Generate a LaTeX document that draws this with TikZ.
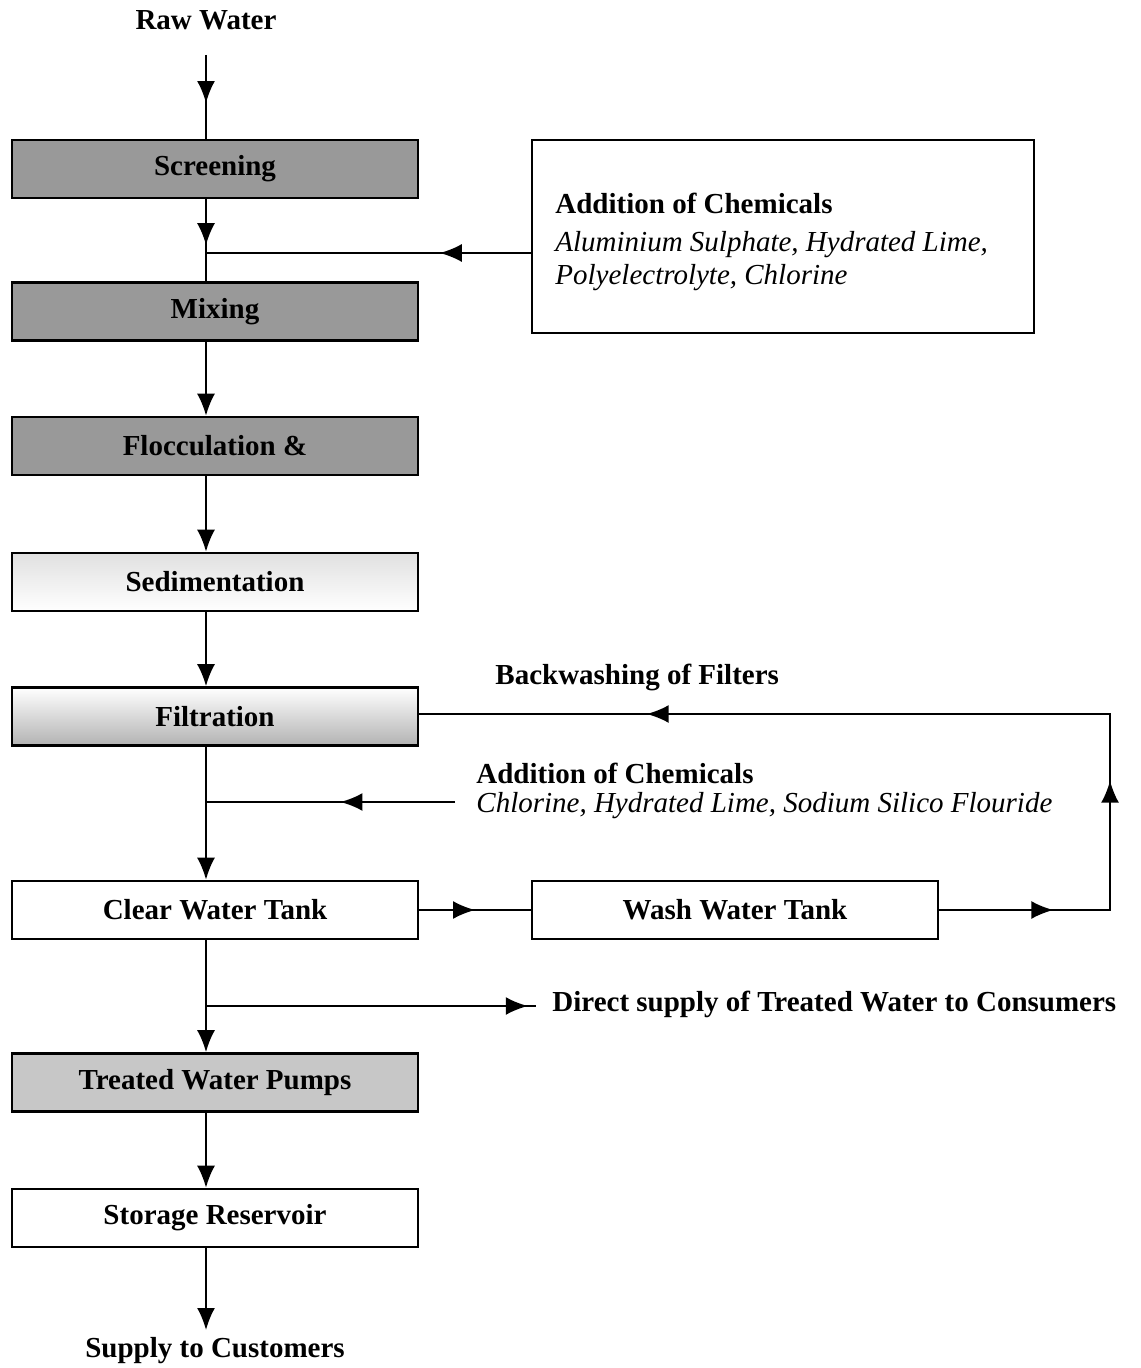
\documentclass[tikz,border=0pt]{standalone}
\usepackage{fontspec}
\setmainfont{Liberation Serif}
\usetikzlibrary{arrows.meta}
\usetikzlibrary{decorations.markings}
\usetikzlibrary{positioning}
\tikzset{
  stage/.style={draw,line width=1.3pt,minimum width=203pt,minimum height=29pt,
    inner sep=0pt,font=\fontsize{14.5}{17}\selectfont\bfseries}, % Prozessstufe
  darkstage/.style={stage,fill=black!40},
  midstage/.style={stage,fill=black!22},
  fadestage/.style={stage,top color=white,bottom color=black!30},
  palestage/.style={stage,top color=black!12,bottom color=white},
  plain/.style={font=\fontsize{14.5}{17}\selectfont\bfseries},
  chemlist/.style={font=\fontsize{14.5}{16.5}\selectfont\itshape,align=left},
  flow/.style={line width=1pt,->}, % Pfeil am Ende
  midflow/.style={line width=1pt,postaction={decorate},
    decoration={markings,mark=at position #1 with {\arrow{>}}}} % Pfeil in der Mitte
}
\begin{document}
\begin{tikzpicture}[x=0.5pt,y=-0.5pt,
>={Latex[length=11pt,width=9pt]} % Pfeilspitzen
]
\useasboundingbox (0,0) rectangle (1140,1368);

%Stufen
\node[plain] (raw) at (206,20) {Raw Water};
\node[darkstage] (screen) at (215,169) {Screening};
\node[darkstage] (mix) at (215,311.5) {Mixing};
\node[darkstage] (floc) at (215,446) {Flocculation \&};
\node[palestage] (sedi) at (215,582) {Sedimentation};
\node[fadestage] (filt) at (215,716.5) {Filtration};
\node[stage] (clear) at (215,910) {Clear Water Tank};
\node[stage] (wash) at (735,910) {Wash Water Tank};
\node[midstage] (pumps) at (215,1082.5) {Treated Water Pumps};
\node[stage] (store) at (215,1218) {Storage Reservoir};
\node[plain,anchor=north] (supply) at (215,1330) {Supply to Customers};

%Chemikalien
\node[draw,line width=1.3pt,minimum width=251pt,minimum height=96.5pt] (chem) at (783,236.5) {};
\node[plain,anchor=west,inner sep=0pt] (chemhead) at (555,203) {Addition of Chemicals};
\node[chemlist,anchor=west,inner sep=0pt] (chemtext) at (555,261)
  {Aluminium Sulphate, Hydrated Lime,\\Polyelectrolyte, Chlorine};
\node[plain,anchor=west,inner sep=0pt] (addhead) at (476,773) {Addition of Chemicals};
\node[chemlist,anchor=west,inner sep=0pt] (addtext) at (476,806)
  {Chlorine, Hydrated Lime, Sodium Silico Flouride};
\node[plain,anchor=west,inner sep=0pt] (backhead) at (495,677) {Backwashing of Filters};
\node[plain,anchor=west,inner sep=0pt] (direct) at (552,1004)
  {Direct supply of Treated Water to Consumers};

%Hilfspunkte
\coordinate (jA) at (206,253);
\coordinate (jB) at (206,802);
\coordinate (jC) at (206,1006);
\coordinate (chemB) at (455,802);
\coordinate (bwc) at (1110,910);
\coordinate (bwt) at (1110,714);

%Leitungen
\draw[midflow=0.65,shorten <=9pt] (raw.south) -- (raw.south |- screen.north);
\draw[midflow=0.56] (screen.south -| jA) -- (mix.north -| jA);
\draw[midflow=0.28] (chem.west |- jA) -- (jA);
\draw[flow] (mix.south -| jA) -- (floc.north -| jA);
\draw[flow] (floc.south -| jA) -- (sedi.north -| jA);
\draw[flow] (sedi.south -| jA) -- (filt.north -| jA);
\draw[flow] (filt.south -| jB) -- (clear.north -| jB);
\draw[midflow=0.46] (chemB) -- (jB);
\draw[midflow=0.5] (clear.east) -- (wash.west);
\draw[line width=1pt,postaction={decorate},decoration={markings,
  mark=at position 57pt with {\arrow{>}},
  mark=at position 150pt with {\arrow{>}},
  mark=at position 415pt with {\arrow{>}}}]
  (wash.east) -- (bwc) -- (bwt) -- (filt.east |- bwt);
\draw[flow] (clear.south -| jC) -- (pumps.north -| jC);
\draw[midflow=0.93,shorten >=8pt] (jC) -- (jC -| direct.west);
\draw[flow] (pumps.south -| jC) -- (store.north -| jC);
\draw[flow] (store.south -| jC) -- (supply.north -| jC);
\end{tikzpicture}
\end{document}
